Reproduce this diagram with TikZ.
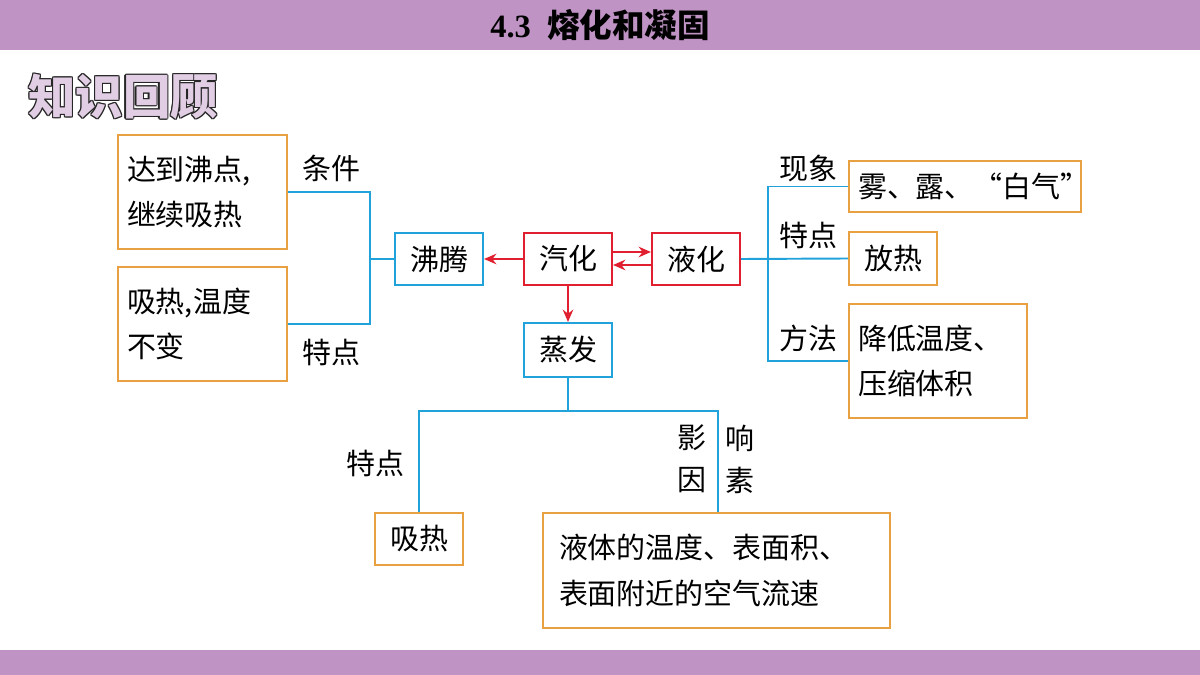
\documentclass[tikz,border=0pt]{standalone}
\usepackage{fontspec}
\setmainfont{Liberation Serif}
\newfontfamily\cjk{Noto Sans CJK SC}
\usetikzlibrary{arrows.meta}
\definecolor{bar}{HTML}{BF93C4}
\definecolor{ob}{HTML}{E8A040}
\definecolor{bb}{HTML}{22A2DA}
\definecolor{rb}{HTML}{E02030}
\begin{document}
\begin{tikzpicture}[x=0.02cm,y=-0.02cm,
  box/.style={draw,line width=1.2pt,inner ysep=0pt,inner xsep=9*0.02cm,font=\cjk\fontsize{16.5}{26}\selectfont,align=left},
  ob/.style={box,draw=ob},bbx/.style={box,draw=bb},rbx/.style={box,draw=rb},
  lbl/.style={font=\cjk\fontsize{16.5}{24}\selectfont},
  bl/.style={draw=bb,line width=1.1pt},
  ra/.style={draw=rb,line width=1.1pt,-{Stealth[length=7pt,width=6pt]}}]
\useasboundingbox (0,0) rectangle (1200,675);
\fill[bar] (0,0) rectangle (1200,50);
\fill[bar] (0,650) rectangle (1200,675);
\node[font=\bfseries\fontsize{18.5}{20}\selectfont] (title) at (600,25) {4.3\ \ {\cjk 熔化和凝固}};
\foreach \dx/\dy in {-1.2/0,1.2/0,0/-1.2,0/1.2,-0.9/-0.9,0.9/0.9,-0.9/0.9,0.9/-0.9}
  \node[anchor=west,font=\cjk\bfseries\fontsize{27}{30}\selectfont,text=black!85] at (22+\dx,97+\dy) {知识回顾};
\node[anchor=west,font=\cjk\bfseries\fontsize{27}{30}\selectfont,text=bar!45] (kr) at (22,97) {知识回顾};

\node[ob,text width=151*0.02cm,minimum height=114*0.02cm] (A) at (202.5,192) {达到沸点,\\继续吸热};
\node[ob,text width=151*0.02cm,minimum height=114*0.02cm] (B) at (202.5,324) {吸热,温度\\不变};
\node[lbl] (tj) at (331,168) {条件};
\node[lbl] (td1) at (331,352) {特点};
\node[bbx,minimum width=88*0.02cm,minimum height=52*0.02cm] (fe) at (439,259) {沸腾};
\node[rbx,minimum width=88*0.02cm,minimum height=52*0.02cm] (qh) at (568,259) {汽化};
\node[rbx,minimum width=88*0.02cm,minimum height=52*0.02cm] (yh) at (696,259) {液化};
\node[bbx,minimum width=88*0.02cm,minimum height=54*0.02cm] (zf) at (568,350) {蒸发};
\coordinate (j1) at (370,259);
\draw[bl] (A.east) -| (j1) |- (B.east);
\draw[bl] (j1) -- (fe.west);
\draw[ra] (qh.west) -- (fe.east);
\draw[ra] ([yshift=7*0.02cm]qh.east) -- ([yshift=7*0.02cm]yh.west);
\draw[ra] ([yshift=-6*0.02cm]yh.west) -- ([yshift=-6*0.02cm]qh.east);
\draw[ra] (qh.south) -- (zf.north);

% right side
\node[ob,text width=214*0.02cm,minimum height=51*0.02cm] (wu) at (965,186.5) {雾、露、“白气”};
\node[ob,minimum width=88*0.02cm,minimum height=53*0.02cm] (fr) at (893,258.5) {放热};
\node[ob,text width=160*0.02cm,minimum height=114*0.02cm] (jd) at (938,361) {降低温度、\\压缩体积};
\node[lbl] (xx) at (808,168) {现象};
\node[lbl] (td2) at (808,235) {特点};
\node[lbl] (ff) at (808,338) {方法};
\coordinate (j2) at (768,259);
\draw[bl] (yh.east) -- (fr.west);
\draw[bl] (wu.west) -| (j2) |- (jd.west);

% bottom
\node[ob,minimum width=88*0.02cm,minimum height=52*0.02cm] (xr) at (419,539) {吸热};
\node[ob,text width=315*0.02cm,inner xsep=16*0.02cm,minimum height=115*0.02cm,align=left] (big) at (716.5,570.5) {液体的温度、表面积、\\表面附近的空气流速};
\node[lbl] (td3) at (375,463) {特点};
\node[lbl] (y1) at (692,438) {影};
\node[lbl] (y2) at (740,438) {响};
\node[lbl] (y3) at (692,480) {因};
\node[lbl] (y4) at (740,480) {素};
\coordinate (j3) at (568,411);
\draw[bl] (zf.south) -- (j3);
\draw[bl] (xr.north) |- (j3) -| (big.north -| 718,0);
\end{tikzpicture}
\end{document}
